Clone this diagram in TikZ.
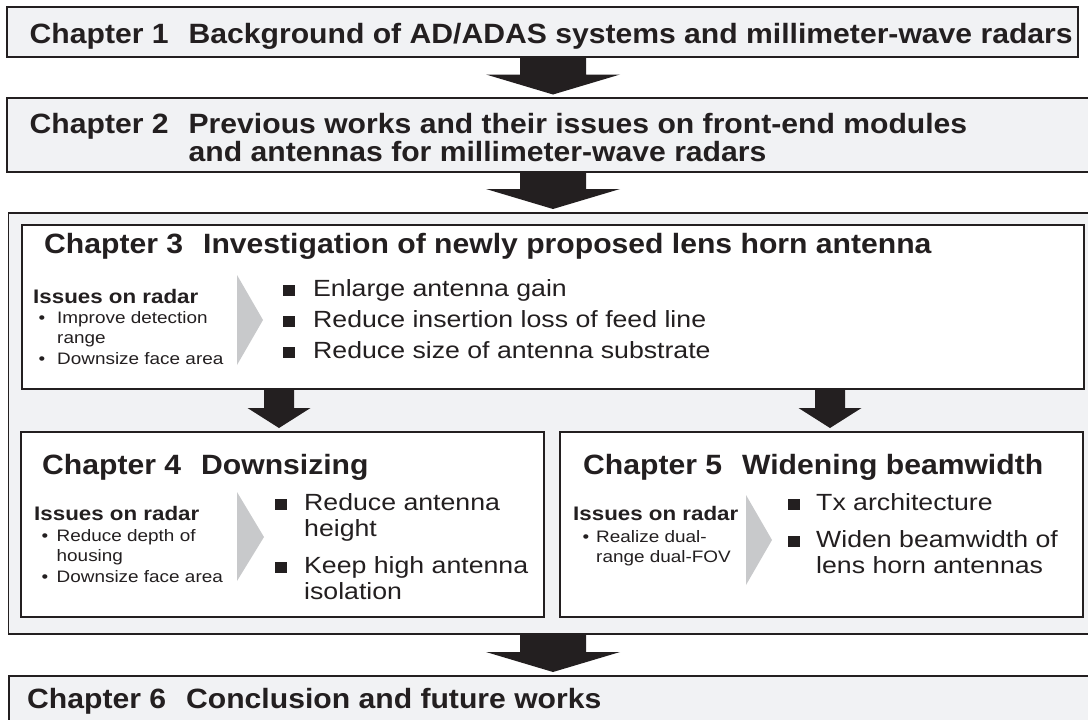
\documentclass[tikz,border=0pt]{standalone}
\usepackage{fontspec}
\setmainfont{Liberation Sans}[FakeStretch=1.14]
\newfontfamily\ttlfont{Liberation Sans}[FakeStretch=1.08]
\usetikzlibrary{calc}
\definecolor{ink}{HTML}{231F20}
\definecolor{panel}{HTML}{F1F2F4}
\definecolor{chev}{HTML}{C8C9CB}
\tikzset{
  box/.style={draw=ink, line width=1.8pt, inner sep=0pt, anchor=north west, rectangle},
  graybox/.style={box, fill=panel},
  whitebox/.style={box, fill=white},
  ttl/.style={anchor=base west, inner sep=0pt, text=ink, font=\ttlfont\bfseries\fontsize{27.9}{28}\selectfont},
  issue/.style={anchor=base west, inner sep=0pt, text=ink, font=\bfseries\fontsize{19.6}{22}\selectfont},
  sub/.style={anchor=base west, inner sep=0pt, text=ink, font=\fontsize{16.6}{20.5}\selectfont},
  item/.style={anchor=base west, inner sep=0pt, text=ink, font=\fontsize{23.4}{26}\selectfont},
  chevron/.style={fill=chev, draw=none}
}
% block arrow: #1 start, #2 tip, #3 shaft half width, #4 head half width, #5 head length
\newcommand\blockarr[5]{%
  \fill[ink] ($(#1)+(-#3,0)$) -- ($(#1)+(#3,0)$) -- ($(#2)+(#3,-#5)$) -- ($(#2)+(#4,-#5)$)
    -- (#2) -- ($(#2)+(-#4,-#5)$) -- ($(#2)+(-#3,-#5)$) -- cycle;}
\newcommand\sq{\textcolor{ink}{\rule{12pt}{11.5pt}}}
\begin{document}
\begin{tikzpicture}[x=1pt,y=-1pt]
\useasboundingbox (0,0) rectangle (1088,720);
\clip (0,0) rectangle (1088,720);
\fill[white] (0,0) rectangle (1088,720);

% boxes
\node (ch1) [graybox, minimum width=1071pt, minimum height=50pt] at (6,6) {};
\node (ch2) [graybox, minimum width=1094pt, minimum height=74pt] at (6,97) {};
\node (outer) [graybox, minimum width=1092pt, minimum height=421pt] at (7.5,212) {};
\node (ch3) [whitebox, minimum width=1062pt, minimum height=164pt] at (21,224) {};
\node (ch4) [whitebox, minimum width=523pt, minimum height=185pt] at (20,431) {};
\node (ch5) [whitebox, minimum width=523pt, minimum height=185pt] at (559,431) {};
\node (ch6) [graybox, minimum width=1092pt, minimum height=80pt] at (8,675) {};

% arrows
\coordinate (xm) at (553,0);
\coordinate (xl) at (279,0);
\coordinate (xr) at (830,0);
\coordinate (a1s) at (ch1.south -| xm);
\coordinate (a1e) at ($(ch2.north -| xm)+(0,-2.5)$);
\coordinate (a2s) at (ch2.south -| xm);
\coordinate (a2e) at ($(outer.north -| xm)+(0,-3)$);
\coordinate (a3s) at (ch3.south -| xl);
\coordinate (a3e) at ($(ch4.north -| xl)+(0,-3)$);
\coordinate (a4s) at (ch3.south -| xr);
\coordinate (a4e) at ($(ch5.north -| xr)+(0,-3)$);
\coordinate (a5s) at (outer.south -| xm);
\coordinate (a5e) at ($(ch6.north -| xm)+(0,-3)$);
\blockarr{a1s}{a1e}{33}{67}{20}
\blockarr{a2s}{a2e}{33}{67}{20}
\blockarr{a3s}{a3e}{15}{31.5}{20}
\blockarr{a4s}{a4e}{15}{31.5}{20}
\blockarr{a5s}{a5e}{33}{67}{20}

% chevrons
\fill[chevron] (237,275) -- (263,320) -- (237,365) -- cycle;
\fill[chevron] (237,492) -- (264,537) -- (237,581) -- cycle;
\fill[chevron] (746,495) -- (772,540) -- (746,585) -- cycle;

% titles
\node (t1) [ttl] at (29.5,43) {Chapter 1\hspace{20pt}Background of AD/ADAS systems and millimeter-wave radars};
\node (t2) [ttl] at (29.5,133) {\begin{tabular}[t]{@{}l@{}l@{}}Chapter 2\kern20pt&Previous works and their issues on front-end modules\\&and antennas for millimeter-wave radars\end{tabular}};
\node (t3) [ttl] at (44,253) {Chapter 3\hspace{20pt}Investigation of newly proposed lens horn antenna};
\node (t4) [ttl] at (42,474) {Chapter 4\hspace{20pt}Downsizing};
\node (t5) [ttl] at (583,474) {Chapter 5\hspace{20pt}Widening beamwidth};
\node (t6) [ttl] at (27,708) {Chapter 6\hspace{20pt}Conclusion and future works};

% chapter 3 contents
\node (i3) [issue] at (33,303) {Issues on radar};
\node (s3a) [sub] at (38.5,323) {\makebox[18.5pt][l]{•}\begin{tabular}[t]{@{}l@{}}Improve detection\\range\end{tabular}};
\node (s3b) [sub] at (38.5,364) {\makebox[18.5pt][l]{•}Downsize face area};
\node (m3a) [item] at (283,296) {\makebox[30pt][l]{\sq}Enlarge antenna gain};
\node (m3b) [item] at (283,327) {\makebox[30pt][l]{\sq}Reduce insertion loss of feed line};
\node (m3c) [item] at (283,358) {\makebox[30pt][l]{\sq}Reduce size of antenna substrate};

% chapter 4 contents
\node (i4) [issue] at (34,520) {Issues on radar};
\node (s4a) [sub] at (41.5,541) {\makebox[15pt][l]{•}\begin{tabular}[t]{@{}l@{}}Reduce depth of\\housing\end{tabular}};
\node (s4b) [sub] at (41.5,582) {\makebox[15pt][l]{•}Downsize face area};
\node (m4a) [item] at (275,510) {\makebox[29pt][l]{\sq}\begin{tabular}[t]{@{}l@{}}Reduce antenna\\height\end{tabular}};
\node (m4b) [item] at (275,573) {\makebox[29pt][l]{\sq}\begin{tabular}[t]{@{}l@{}}Keep high antenna\\isolation\end{tabular}};

% chapter 5 contents
\node (i5) [issue] at (573,520) {Issues on radar};
\node (s5a) [sub] at (582.5,542) {\makebox[13.5pt][l]{•}\begin{tabular}[t]{@{}l@{}}Realize dual-\\range dual-FOV\end{tabular}};
\node (m5a) [item] at (788,510) {\makebox[28pt][l]{\sq}Tx architecture};
\node (m5b) [item] at (788,547) {\makebox[28pt][l]{\sq}\begin{tabular}[t]{@{}l@{}}Widen beamwidth of\\lens horn antennas\end{tabular}};
\end{tikzpicture}
\end{document}
